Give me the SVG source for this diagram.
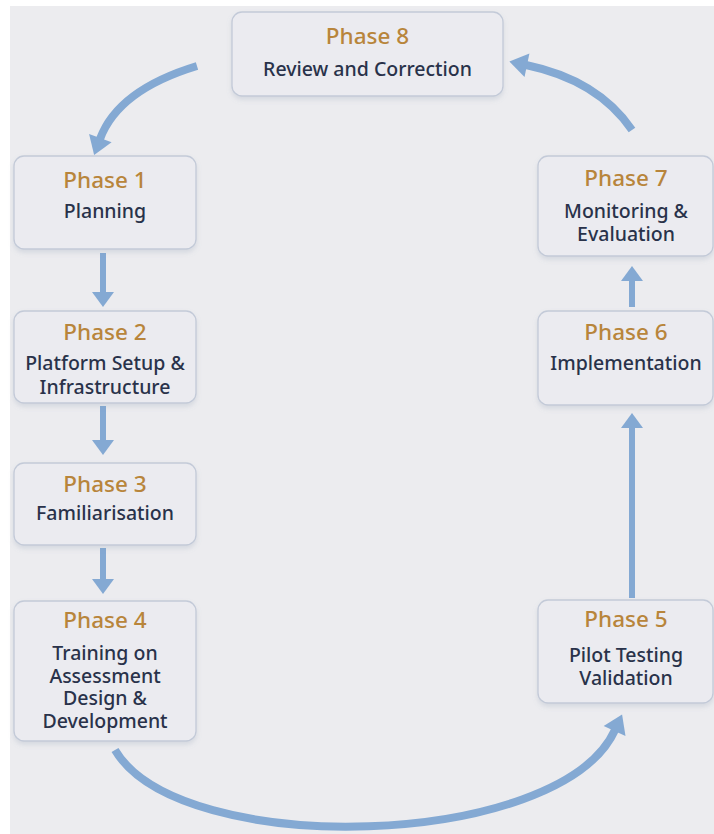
<svg xmlns="http://www.w3.org/2000/svg" width="714" height="834" viewBox="0 0 714 834">
<style>
.box{fill:#ebebf0;stroke:#c3cad8;stroke-width:1.3;filter:url(#sh)}
.t{font-family:"Noto Sans","Open Sans","DejaVu Sans",sans-serif;font-size:22.5px;font-weight:500;fill:#b8853b;text-anchor:middle}
.b{font-family:"Noto Sans","Open Sans","DejaVu Sans",sans-serif;font-size:19.5px;font-weight:500;fill:#29324a;text-anchor:middle}
.c{fill:none;stroke:#84a9d3;stroke-width:8}
.s{fill:none;stroke:#84a9d3;stroke-width:6}
</style>
<defs>
<filter id="sh" x="-10%" y="-10%" width="120%" height="130%">
<feDropShadow dx="0" dy="3" stdDeviation="2.5" flood-color="#8090a8" flood-opacity="0.22"/>
</filter>
<marker id="ah" markerUnits="userSpaceOnUse" markerWidth="20" markerHeight="26" refX="1" refY="12" orient="auto" overflow="visible">
<path d="M0,0 L18,12 L0,24 z" fill="#84a9d3"/>
</marker>
<marker id="as" markerUnits="userSpaceOnUse" markerWidth="18" markerHeight="24" refX="1" refY="11" orient="auto" overflow="visible">
<path d="M0,0 L15,11 L0,22 z" fill="#84a9d3"/>
</marker>
</defs>
<rect x="0" y="0" width="714" height="834" fill="#ffffff"/>
<rect x="10" y="6" width="704" height="828" fill="#ececef"/>

<g id="connectors">
<path class="c" d="M197,66 Q118,90 100,139" marker-end="url(#ah)"/>
<path class="s" d="M103,253 L103,293" marker-end="url(#as)"/>
<path class="s" d="M103,406 L103,441" marker-end="url(#as)"/>
<path class="s" d="M103,548 L103,580" marker-end="url(#as)"/>
<path class="c" d="M115,750 C180,860 560,850 615,730" marker-end="url(#ah)"/>
<path class="s" d="M632,598 L632,427" marker-end="url(#as)"/>
<path class="s" d="M632,307 L632,280" marker-end="url(#as)"/>
<path class="c" d="M632,130 Q598,80 526,65" marker-end="url(#ah)"/>
</g>

<g id="phase8">
<rect class="box" x="232" y="12" width="271" height="84" rx="10"/>
<text class="t" x="367.5" y="44">Phase 8</text>
<text class="b" x="367.5" y="76">Review and Correction</text>
</g>
<g id="phase1">
<rect class="box" x="14" y="156" width="182" height="93" rx="10"/>
<text class="t" x="105" y="188">Phase 1</text>
<text class="b" x="105" y="218">Planning</text>
</g>
<g id="phase2">
<rect class="box" x="14" y="311" width="182" height="92" rx="10"/>
<text class="t" x="105" y="340">Phase 2</text>
<text class="b" x="105" y="370">Platform Setup &amp;</text>
<text class="b" x="105" y="394">Infrastructure</text>
</g>
<g id="phase3">
<rect class="box" x="14" y="463" width="182" height="82" rx="10"/>
<text class="t" x="105" y="492">Phase 3</text>
<text class="b" x="105" y="520">Familiarisation</text>
</g>
<g id="phase4">
<rect class="box" x="14" y="601" width="182" height="140" rx="10"/>
<text class="t" x="105" y="628">Phase 4</text>
<text class="b" x="105" y="660">Training on</text>
<text class="b" x="105" y="683">Assessment</text>
<text class="b" x="105" y="705">Design &amp;</text>
<text class="b" x="105" y="728">Development</text>
</g>
<g id="phase5">
<rect class="box" x="538" y="600" width="175" height="103" rx="10"/>
<text class="t" x="626" y="627">Phase 5</text>
<text class="b" x="626" y="662">Pilot Testing</text>
<text class="b" x="626" y="685">Validation</text>
</g>
<g id="phase6">
<rect class="box" x="538" y="311" width="175" height="94" rx="10"/>
<text class="t" x="626" y="340">Phase 6</text>
<text class="b" x="626" y="370">Implementation</text>
</g>
<g id="phase7">
<rect class="box" x="538" y="156" width="175" height="100" rx="10"/>
<text class="t" x="626" y="186">Phase 7</text>
<text class="b" x="626" y="218">Monitoring &amp;</text>
<text class="b" x="626" y="241">Evaluation</text>
</g>
</svg>
